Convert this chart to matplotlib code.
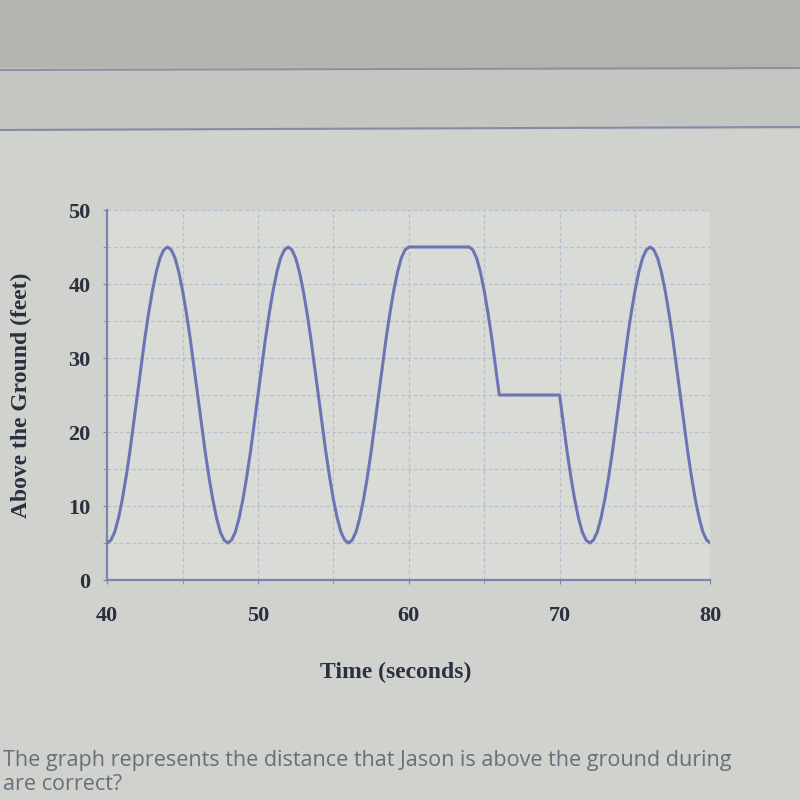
import numpy as np
import matplotlib
matplotlib.use('Agg')
import matplotlib.pyplot as plt
from matplotlib.lines import Line2D
from matplotlib.patches import Rectangle
from matplotlib.ticker import MultipleLocator

# height above the ground (feet), read every quarter second from the picture
rise = [5.4, 6.5, 8.4, 10.9, 13.9, 17.3, 21.1, 25, 28.9, 32.7, 36.1, 39.1, 41.6, 43.5, 44.6, 45]
fall = [44.6, 43.5, 41.6, 39.1, 36.1, 32.7, 28.9, 25, 21.1, 17.3, 13.9, 10.9, 8.4, 6.5, 5.4, 5]
top_stop = [45] * 16      # 60 s .. 64 s
mid_stop = [25] * 16      # 66 s .. 70 s

heights = ([5] + rise + fall + rise + fall + rise + top_stop
           + fall[:8] + mid_stop + fall[8:] + rise + fall)
times = np.arange(40, 80.25, 0.25)

x_ticks = [40, 50, 60, 70, 80]
y_ticks = [0, 10, 20, 30, 40, 50]

text_col = '#2c2f3e'
line_col = '#6c75b4'
axis_col = '#7d84aa'
grid_col = '#b9bdd0'

fig = plt.figure(figsize=(8, 8), dpi=100, facecolor='#d0d2cd')

# screen decorations of the photographed page
fig.add_artist(Rectangle((0, 1 - 68 / 800), 1, 68 / 800, transform=fig.transFigure,
                         color='#b3b4b0', zorder=0))
fig.add_artist(Rectangle((0, 1 - 128 / 800), 1, 60 / 800, transform=fig.transFigure,
                         color='#c4c6c1', zorder=0))
fig.add_artist(Line2D([0, 1], [1 - 70 / 800, 1 - 68 / 800], transform=fig.transFigure,
                      color='#8c90a2', lw=1.5))
fig.add_artist(Line2D([0, 1], [1 - 130 / 800, 1 - 127 / 800], transform=fig.transFigure,
                      color='#868ba8', lw=1.5))

ax = fig.add_axes([0.134, 0.275, 0.754, 0.4625])
ax.set_facecolor('#d9dbd7')

ax.plot(times, heights, color=line_col, lw=2.2, solid_joinstyle='round', zorder=3)

ax.set_xlim(40, 80)
ax.set_ylim(0, 50)
ax.set_xticks(x_ticks)
ax.set_yticks(y_ticks)
ax.xaxis.set_minor_locator(MultipleLocator(5))
ax.yaxis.set_minor_locator(MultipleLocator(5))
ax.grid(which='both', color=grid_col, lw=0.9, ls=(0, (3, 2)))
ax.set_axisbelow(True)

for side in ['top', 'right']:
    ax.spines[side].set_visible(False)
for side in ['left', 'bottom']:
    ax.spines[side].set_color(axis_col)
    ax.spines[side].set_linewidth(1.6)

font = dict(family='Liberation Serif', weight='bold', color=text_col)
ax.tick_params(which='both', length=3, color=axis_col)
ax.tick_params(axis='x', pad=16)
ax.tick_params(axis='y', pad=9)
for lab in ax.get_xticklabels() + ax.get_yticklabels():
    lab.set(fontsize=16, **font)

ax.set_xlabel('Time (seconds)', fontsize=17, **font)
ax.set_ylabel('Above the Ground (feet)', fontsize=17, **font)
ax.xaxis.set_label_coords(0.478, -0.22)
ax.yaxis.set_label_coords(-0.124, 0.5)

fig.text(0.004, 0.042, 'The graph represents the distance that Jason is above the ground during',
         fontsize=15.5, family='Open Sans', color='#6a6e7a')
fig.text(0.004, 0.012, 'are correct?', fontsize=15.5, family='Open Sans', color='#6a6e7a')

fig.savefig('out.png', dpi=100, facecolor=fig.get_facecolor())
